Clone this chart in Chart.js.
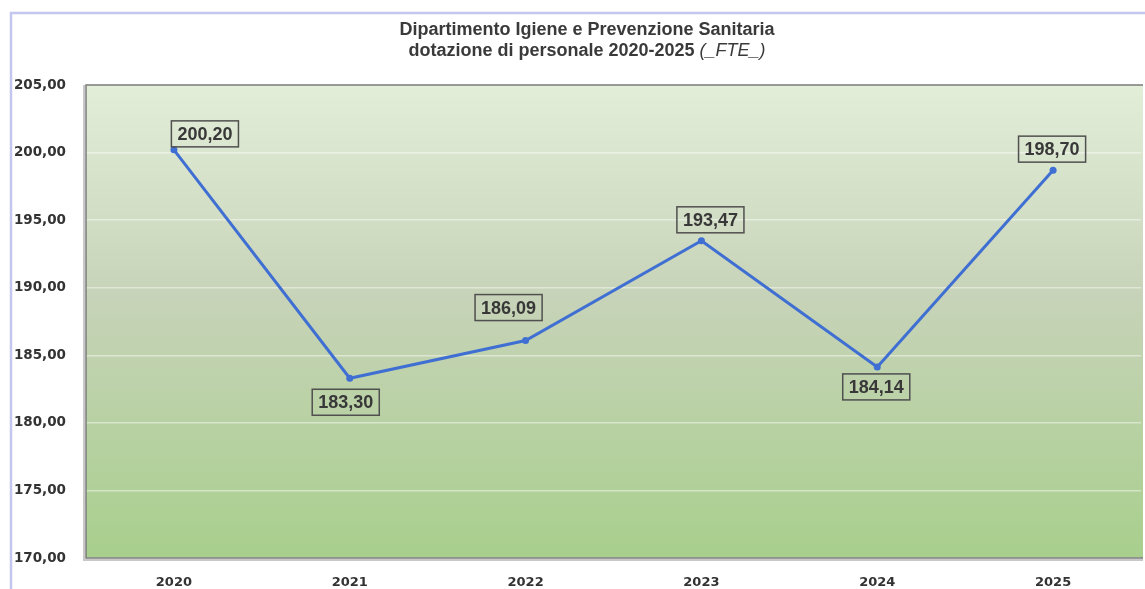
<!DOCTYPE html>
<html>
<head>
<meta charset="utf-8">
<script src="https://cdn.jsdelivr.net/npm/chart.js@4/dist/chart.umd.min.js"></script>
<style>
html,body{margin:0;padding:0;background:#fff;overflow:hidden;}
#wrap{position:relative;width:1145px;height:589px;}
</style>
</head>
<body>
<div id="wrap"><canvas id="c" width="1145" height="589"></canvas></div>
<script>
const categories = ['2020', '2021', '2022', '2023', '2024', '2025'];
const fteValues = [200.20, 183.30, 186.09, 193.47, 184.14, 198.70];
const titleLine1 = 'Dipartimento Igiene e Prevenzione Sanitaria';
const titleLine2Main = 'dotazione di personale 2020-2025 ';
const titleLine2Unit = '(_FTE_)';
const yMin = 170, yMax = 205, yStep = 5;

const FONT = '"Liberation Sans", Arial, sans-serif';
const TICKFONT = '"DejaVu Sans", Verdana, sans-serif';
const fmt = v => v.toFixed(2).replace('.', ',');

const bgPlugin = {
  id: 'bgPlugin',
  beforeDraw(chart) {
    const {ctx, chartArea: a} = chart;
    ctx.save();
    ctx.strokeStyle = '#c3c6ef';
    ctx.lineWidth = 2.5;
    ctx.beginPath();
    ctx.moveTo(11, 589);
    ctx.lineTo(11, 13);
    ctx.lineTo(1145, 13);
    ctx.stroke();
    const g = ctx.createLinearGradient(0, a.top, 0, a.bottom);
    g.addColorStop(0, '#e3eed9');
    g.addColorStop(0.45, '#c7d3b8');
    g.addColorStop(1, '#a8cf8d');
    ctx.fillStyle = g;
    ctx.fillRect(a.left, a.top, a.right - a.left + 2, a.bottom - a.top);
    ctx.restore();
  },
  afterDatasetsDraw(chart) {
    const {ctx, chartArea: a} = chart;
    ctx.save();
    ctx.strokeStyle = '#c8c8c8';
    ctx.lineWidth = 2;
    ctx.beginPath();
    ctx.moveTo(a.left - 2, a.top);
    ctx.lineTo(a.left - 2, a.bottom + 2);
    ctx.lineTo(a.right + 2, a.bottom + 2);
    ctx.stroke();
    ctx.strokeStyle = '#7a7a7a';
    ctx.lineWidth = 1.5;
    ctx.beginPath();
    ctx.moveTo(a.right + 2, a.top);
    ctx.lineTo(a.left, a.top);
    ctx.lineTo(a.left, a.bottom);
    ctx.lineTo(a.right + 2, a.bottom);
    ctx.stroke();
    const cx = 587;
    ctx.fillStyle = '#3a3a3a';
    ctx.textBaseline = 'middle';
    ctx.textAlign = 'center';
    ctx.font = 'bold 18px ' + FONT;
    ctx.fillText(titleLine1, cx, 30);
    const wMain = ctx.measureText(titleLine2Main).width;
    ctx.font = 'italic 18px ' + FONT;
    const wUnit = ctx.measureText(titleLine2Unit).width;
    const start = cx - (wMain + wUnit) / 2;
    ctx.textAlign = 'left';
    ctx.font = 'bold 18px ' + FONT;
    ctx.fillText(titleLine2Main, start, 51);
    ctx.font = 'italic 18px ' + FONT;
    ctx.fillText(titleLine2Unit, start + wMain, 51);
    ctx.restore();
  },
  afterDraw(chart, args, opts) {
    const {ctx} = chart;
    const meta = chart.getDatasetMeta(0);
    const ds = chart.data.datasets[0].data;
    ctx.save();
    ctx.font = 'bold 18px ' + FONT;
    ctx.textAlign = 'center';
    ctx.textBaseline = 'middle';
    meta.data.forEach((pt, i) => {
      const off = opts.offsets[i];
      const x = pt.x + off[0], y = pt.y + off[1];
      const txt = fmt(ds[i]);
      const w = ctx.measureText(txt).width + 12, h = 26;
      ctx.strokeStyle = '#505050';
      ctx.lineWidth = 1.5;
      ctx.strokeRect(x - w / 2, y - h / 2, w, h);
      ctx.fillStyle = '#383838';
      ctx.fillText(txt, x, y + 1);
    });
    ctx.restore();
  }
};

new Chart(document.getElementById('c'), {
  type: 'line',
  data: {
    labels: categories,
    datasets: [{
      data: fteValues,
      borderColor: '#3f6fd2',
      backgroundColor: '#3f6fd2',
      borderWidth: 3,
      pointRadius: 3.5,
      pointBackgroundColor: '#3f6fd2',
      pointBorderWidth: 0,
      tension: 0,
      clip: false
    }]
  },
  options: {
    responsive: false,
    animation: false,
    devicePixelRatio: 1,
    layout: {padding: {top: 85, left: 0, right: 0, bottom: 0}},
    plugins: {
      legend: {display: false},
      tooltip: {enabled: false},
      title: {display: false},
      bgPlugin: {offsets: [[31, -16], [-4, 24], [-17, -33], [9, -21], [-1, 20], [-1, -21]]}
    },
    scales: {
      x: {
        offset: true,
        grid: {display: false, drawTicks: false},
        border: {display: false},
        ticks: {color: '#333', font: {family: TICKFONT, size: 13, weight: 'bold'}, padding: 17, maxRotation: 0},
        afterFit(s) { s.height = 31; }
      },
      y: {
        min: yMin, max: yMax,
        grid: {color: 'rgba(255,255,255,0.45)', lineWidth: 1.5, drawTicks: false},
        border: {display: false},
        ticks: {stepSize: yStep, color: '#333', font: {family: TICKFONT, size: 13.5, weight: 'bold'}, padding: 20,
          callback: v => fmt(v)},
        afterFit(s) { s.width = 86; }
      }
    }
  },
  plugins: [bgPlugin]
});
</script>
</body>
</html>
